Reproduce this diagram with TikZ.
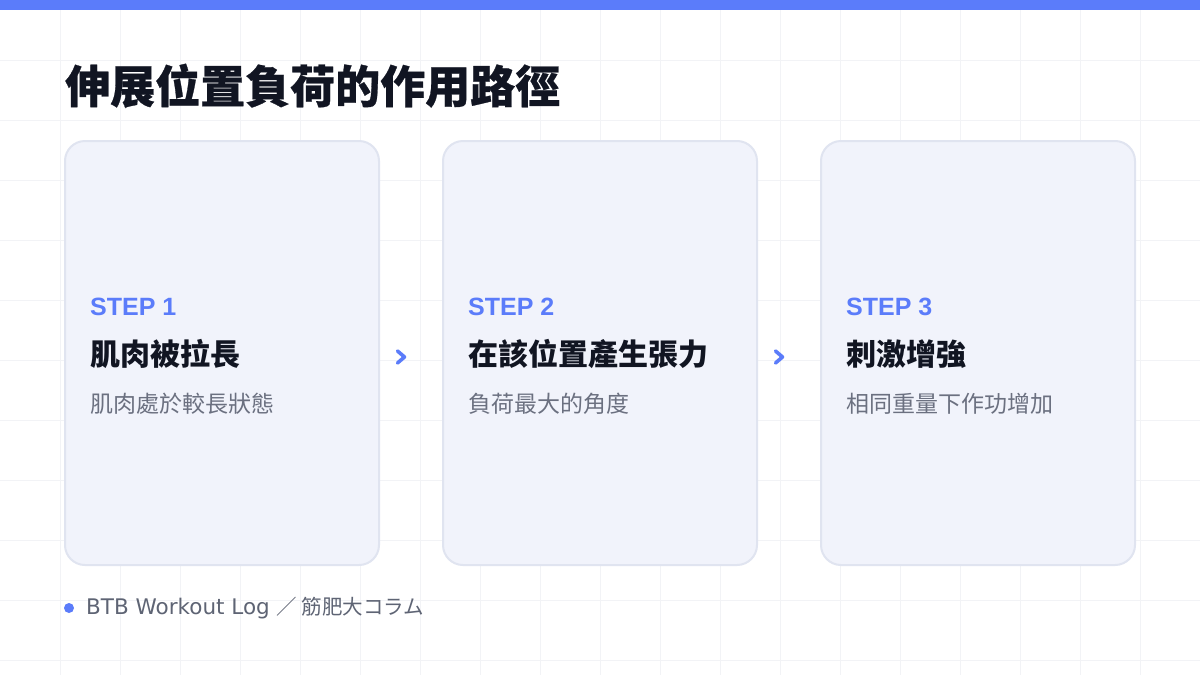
\documentclass[tikz,border=0pt]{standalone}
\usepackage{fontspec}
\setmainfont{Noto Sans}
\newfontfamily\cjk{Noto Sans CJK TC}
\newfontfamily\cjkheavy[BoldFeatures={FakeBold=0.6}]{Noto Sans CJK TC}
\newfontfamily\stepfont{Liberation Sans}
\newfontfamily\footfont{DejaVu Sans}
\definecolor{accent}{HTML}{5B7CFA}
\definecolor{gridc}{HTML}{F2F3F6}
\definecolor{cardfill}{HTML}{F1F3FB}
\definecolor{cardline}{HTML}{E0E4F0}
\definecolor{ink}{HTML}{111522}
\definecolor{sub}{HTML}{6B7080}
\definecolor{foot}{HTML}{5E6474}
\tikzset{
  card/.style={draw=cardline, fill=cardfill, line width=2pt, rounded corners=20pt},
  steplabel/.style={anchor=base west, inner sep=0pt, text=accent, font=\stepfont\fontsize{25}{25}\selectfont\bfseries},
  stephead/.style={anchor=base west, inner sep=0pt, text=ink, font=\cjk\fontsize{30}{30}\selectfont\bfseries},
  stepsub/.style={anchor=base west, inner sep=0pt, text=sub, font=\cjk\fontsize{23}{23}\selectfont},
  chev/.style={draw=accent, line width=3.6pt, line join=round, line cap=round},
}
\begin{document}
\begin{tikzpicture}[x=1pt,y=-1pt]
\useasboundingbox (0,0) rectangle (1200,675);
\fill[white] (0,0) rectangle (1200,675);
% grid
\foreach \gx in {60,120,...,1140} \draw[gridc, line width=1pt] (\gx,0) -- (\gx,675);
\foreach \gy in {60,120,...,660} \draw[gridc, line width=1pt] (0,\gy) -- (1200,\gy);
% top bar
\fill[accent] (0,0) rectangle (1200,10);
% title
\node[anchor=base west, inner sep=0pt, text=ink, font=\cjkheavy\fontsize{45}{45}\selectfont\bfseries] (title) at (65,103) {伸展位置負荷的作用路徑};
% cards
\path[card] (65,141) rectangle (379,565);
\path[card] (443,141) rectangle (757,565);
\path[card] (821,141) rectangle (1135,565);
\node[steplabel] (s1) at (90,315) {STEP 1};
\node[stephead] (h1) at (90,365) {肌肉被拉長};
\node[stepsub] (d1) at (90,412) {肌肉處於較長狀態};
\node[steplabel] (s2) at (468,315) {STEP 2};
\node[stephead] (h2) at (468,365) {在該位置產生張力};
\node[stepsub] (d2) at (468,412) {負荷最大的角度};
\node[steplabel] (s3) at (846,315) {STEP 3};
\node[stephead] (h3) at (846,365) {刺激增強};
\node[stepsub] (d3) at (846,412) {相同重量下作功增加};
% chevrons
\draw[chev] (397.5,351) -- (404.5,357) -- (397.5,363);
\draw[chev] (775.5,351) -- (782.5,357) -- (775.5,363);
% footer
\fill[accent] (69,608) circle (5);
\node[anchor=west, inner sep=0pt, text=foot, font=\footfont\fontsize{21.5}{21.5}\selectfont] (foot) at (86,608) {BTB Workout Log {\cjk\fontsize{20.5}{20.5}\selectfont ／ 筋肥大コラム}};
\end{tikzpicture}
\end{document}
